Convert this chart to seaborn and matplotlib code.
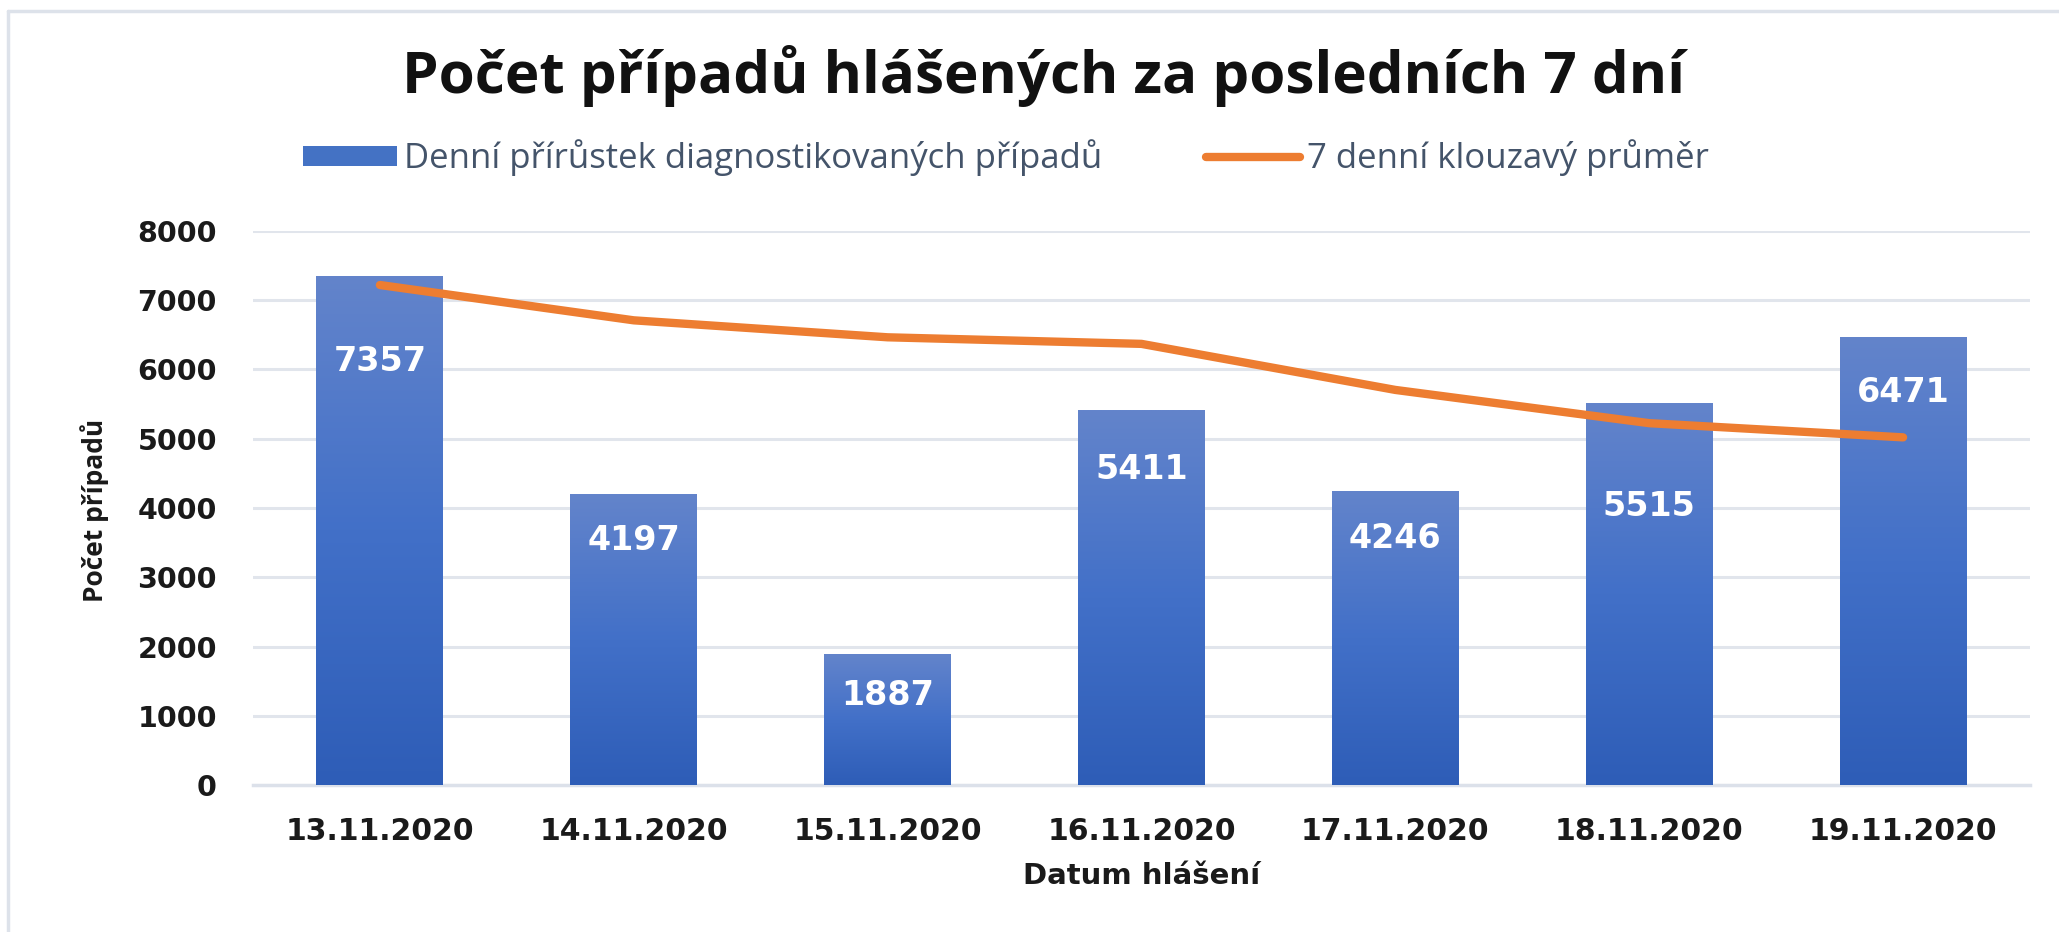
import numpy as np
import pandas as pd
import seaborn as sns
import matplotlib.pyplot as plt
from matplotlib.colors import LinearSegmentedColormap
from matplotlib.lines import Line2D
from matplotlib.patches import Patch

# Data
dates = ['13.11.2020', '14.11.2020', '15.11.2020', '16.11.2020',
         '17.11.2020', '18.11.2020', '19.11.2020']
daily_cases = [7357, 4197, 1887, 5411, 4246, 5515, 6471]
moving_avg = [7220, 6710, 6465, 6370, 5705, 5225, 5020]

title = 'Počet případů hlášených za posledních 7 dní'
bar_label = 'Denní přírůstek diagnostikovaných případů'
line_label = '7 denní klouzavý průměr'

sns.set_style('white')
plt.rcParams['font.family'] = ['DejaVu Sans']

df = pd.DataFrame({'datum': dates, 'pripady': daily_cases})

fig = plt.figure(figsize=(20.59, 9.32), dpi=100)
ax = fig.add_axes([253 / 2059, 1 - 785 / 932, (2030 - 253) / 2059, (785 - 231) / 932])

sns.barplot(data=df, x='datum', y='pripady', color='#4472C4', width=0.5,
            ax=ax, zorder=2)

# per-bar vertical gradient like the Excel fill (light top -> dark bottom)
grad_cmap = LinearSegmentedColormap.from_list('bar', ['#2E5DB7', '#4270C8', '#6384CB'])
grad = np.linspace(0, 1, 256).reshape(-1, 1)
for p in list(ax.patches):
    x0, w, h = p.get_x(), p.get_width(), p.get_height()
    p.set_edgecolor('none')
    im = ax.imshow(grad, extent=[x0, x0 + w, 0, h], origin='lower', aspect='auto',
                   cmap=grad_cmap, zorder=2.1, interpolation='bilinear')
    im.set_clip_path(p)

# moving average line
sns.lineplot(x=np.arange(len(dates)), y=moving_avg, ax=ax, color='#ED7D31',
             linewidth=6, zorder=3, solid_capstyle='round', solid_joinstyle='round')

# value labels inside bars (pixel offsets below the bar top)
label_offsets = [86, 46, 41, 59, 48, 103, 56]
for i, v in enumerate(daily_cases):
    ax.annotate(str(v), (i, v), xytext=(0, -label_offsets[i]), textcoords='offset pixels',
                ha='center', va='center', color='white', fontsize=24,
                fontweight='bold', zorder=4)

ax.set_xlim(-0.5, len(dates) - 0.5)
ax.set_ylim(0, 8000)
ax.set_yticks(np.arange(0, 8001, 1000))
ax.yaxis.grid(True, color='#E1E5EC', linewidth=2.2, zorder=0)
ax.set_axisbelow(True)

for s in ['top', 'right', 'left']:
    ax.spines[s].set_visible(False)
ax.spines['bottom'].set_color('#DCE1EA')
ax.spines['bottom'].set_linewidth(2.5)
ax.spines['bottom'].set_zorder(1)

ax.set_xticks(np.arange(-0.5, len(dates), 1), minor=True)
ax.tick_params(axis='x', which='minor', length=10, width=2.5, color='#DCE1EA', direction='out')
ax.tick_params(axis='x', which='major', length=0, pad=23, labelsize=21.5)
ax.tick_params(axis='y', length=0, pad=26, labelsize=20.5)
for t in ax.get_xticklabels() + ax.get_yticklabels():
    t.set_fontweight('bold')
    t.set_color('#1A1A1A')

ax.set_xlabel('Datum hlášení', fontsize=21, fontweight='bold', color='#1A1A1A')
ax.xaxis.set_label_coords(0.5003, -0.164)
ax.xaxis.label.set_va('center')
ax.set_ylabel('Počet případů', fontsize=19, fontweight='bold', color='#1A1A1A',
              family='Open Sans')
ax.yaxis.set_label_coords(-0.0889, 0.496)
ax.yaxis.label.set_va('center')

fig.text(1044 / 2059, 1 - 76 / 932, title, ha='center', va='center',
         fontsize=42, fontweight='bold', family='Open Sans', color='#111111')

handles = [Patch(facecolor='#4472C4', edgecolor='none'),
           Line2D([0], [0], color='#ED7D31', linewidth=6, solid_capstyle='round')]
fig.legend(handles, [bar_label, line_label], loc='center',
           bbox_to_anchor=(1006 / 2059, 1 - 158 / 932), ncol=2, frameon=False,
           prop={'family': 'Open Sans', 'size': 25}, labelcolor='#44546A',
           handlelength=2.7, handleheight=0.5, handletextpad=0.2, columnspacing=3.0)

# light chart-area border (top and left edges visible)
fig.add_artist(Line2D([8 / 2059, 1], [1 - 11 / 932, 1 - 11 / 932],
                      transform=fig.transFigure, color='#DDE2EA', linewidth=2.5))
fig.add_artist(Line2D([8 / 2059, 8 / 2059], [0, 1 - 11 / 932],
                      transform=fig.transFigure, color='#DDE2EA', linewidth=2.5))

fig.savefig('out.png', dpi=100)
